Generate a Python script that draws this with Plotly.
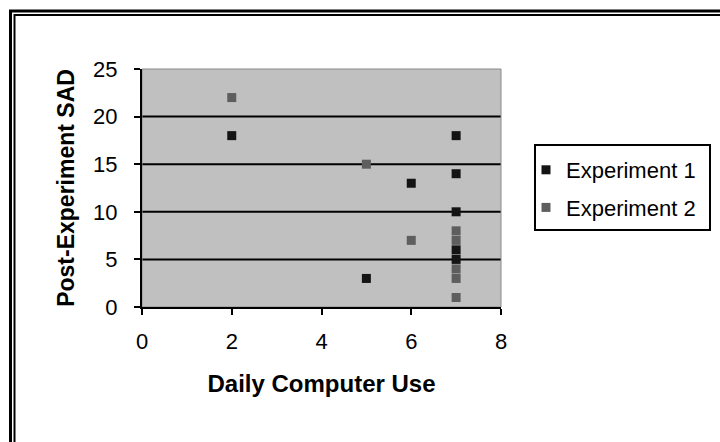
import plotly.graph_objects as go

# Daily computer use (hours) vs. post-experiment SAD score
exp1_use = [2, 7, 7, 6, 7, 7, 7, 5]
exp1_sad = [18, 18, 14, 13, 10, 6, 5, 3]

exp2_use = [2, 5, 6, 7, 7, 7, 7, 7]
exp2_sad = [22, 15, 7, 8, 7, 4, 3, 1]

x_ticks = [0, 2, 4, 6, 8]
y_ticks = [0, 5, 10, 15, 20, 25]
grid_levels = [5, 10, 15, 20]

W, H = 720, 442
L, R, T, B = 142, 501, 69, 307  # plot area in px


def px_x(px):
    return (px - L) / (R - L)


def px_y(py):
    return (B - py) / (B - T)


FONT = "Liberation Sans, Arial, sans-serif"

fig = go.Figure()
fig.add_trace(go.Scatter(
    x=exp1_use, y=exp1_sad, mode="markers", name="Experiment 1",
    legendgroup="e1",
    marker=dict(symbol="square", size=9, color="#141414", line=dict(width=0)),
))
fig.add_trace(go.Scatter(
    x=exp2_use, y=exp2_sad, mode="markers", name="Experiment 2",
    legendgroup="e2",
    marker=dict(symbol="square", size=9, color="#5e5e5e", line=dict(width=0)),
))

shapes = []
# horizontal gridlines between the axis and the top border
for g in grid_levels:
    shapes.append(dict(type="line", xref="paper", yref="y", x0=0, x1=1, y0=g, y1=g,
                       line=dict(color="black", width=2), layer="between"))
# thin grey border around the plot area
shapes.append(dict(type="rect", xref="paper", yref="paper", x0=0, x1=1, y0=0, y1=1,
                   line=dict(color="#8a8a8a", width=1), layer="below"))
# double-line frame around the whole chart
shapes.append(dict(type="rect", xref="paper", yref="paper",
                   x0=px_x(10.5), x1=px_x(740), y0=px_y(11), y1=px_y(470),
                   line=dict(color="black", width=3)))
shapes.append(dict(type="rect", xref="paper", yref="paper",
                   x0=px_x(14.5), x1=px_x(736), y0=px_y(15), y1=px_y(466),
                   line=dict(color="black", width=2)))
# legend box
shapes.append(dict(type="rect", xref="paper", yref="paper",
                   x0=px_x(535), x1=px_x(710), y0=px_y(230), y1=px_y(145),
                   fillcolor="white", line=dict(color="black", width=2)))

fig.update_layout(
    width=W, height=H,
    margin=dict(l=L, r=W - R, t=T, b=H - B, autoexpand=False),
    paper_bgcolor="white",
    plot_bgcolor="#c0c0c0",
    font=dict(family=FONT, color="black"),
    shapes=shapes,
    legend=dict(
        x=px_x(526), y=px_y(149), xanchor="left", yanchor="top",
        bgcolor="rgba(0,0,0,0)", borderwidth=0,
        font=dict(family=FONT, size=22, color="black"),
        itemwidth=30, traceorder="grouped", tracegroupgap=6,
    ),
    xaxis=dict(
        range=[0, 8], tickvals=x_ticks, ticktext=[str(v) for v in x_ticks],
        showgrid=False, zeroline=False,
        showline=True, linecolor="black", linewidth=2,
        ticks="outside", ticklen=6, tickwidth=2, tickcolor="black",
        tickfont=dict(family=FONT, size=22, color="black"),
        ticklabelstandoff=8,
        title=dict(text="Daily Computer Use", standoff=22,
                   font=dict(family=FONT, size=24, color="black", weight="bold")),
    ),
    yaxis=dict(
        range=[0, 25], tickvals=y_ticks, ticktext=[str(v) for v in y_ticks],
        showgrid=False, zeroline=False,
        showline=True, linecolor="black", linewidth=2,
        ticks="outside", ticklen=6, tickwidth=2, tickcolor="black",
        tickfont=dict(family=FONT, size=22, color="black"),
        ticklabelstandoff=12,
        title=dict(text="Post-Experiment SAD", standoff=12,
                   font=dict(family=FONT, size=23, color="black", weight="bold")),
    ),
)

fig.write_html("out.html")
